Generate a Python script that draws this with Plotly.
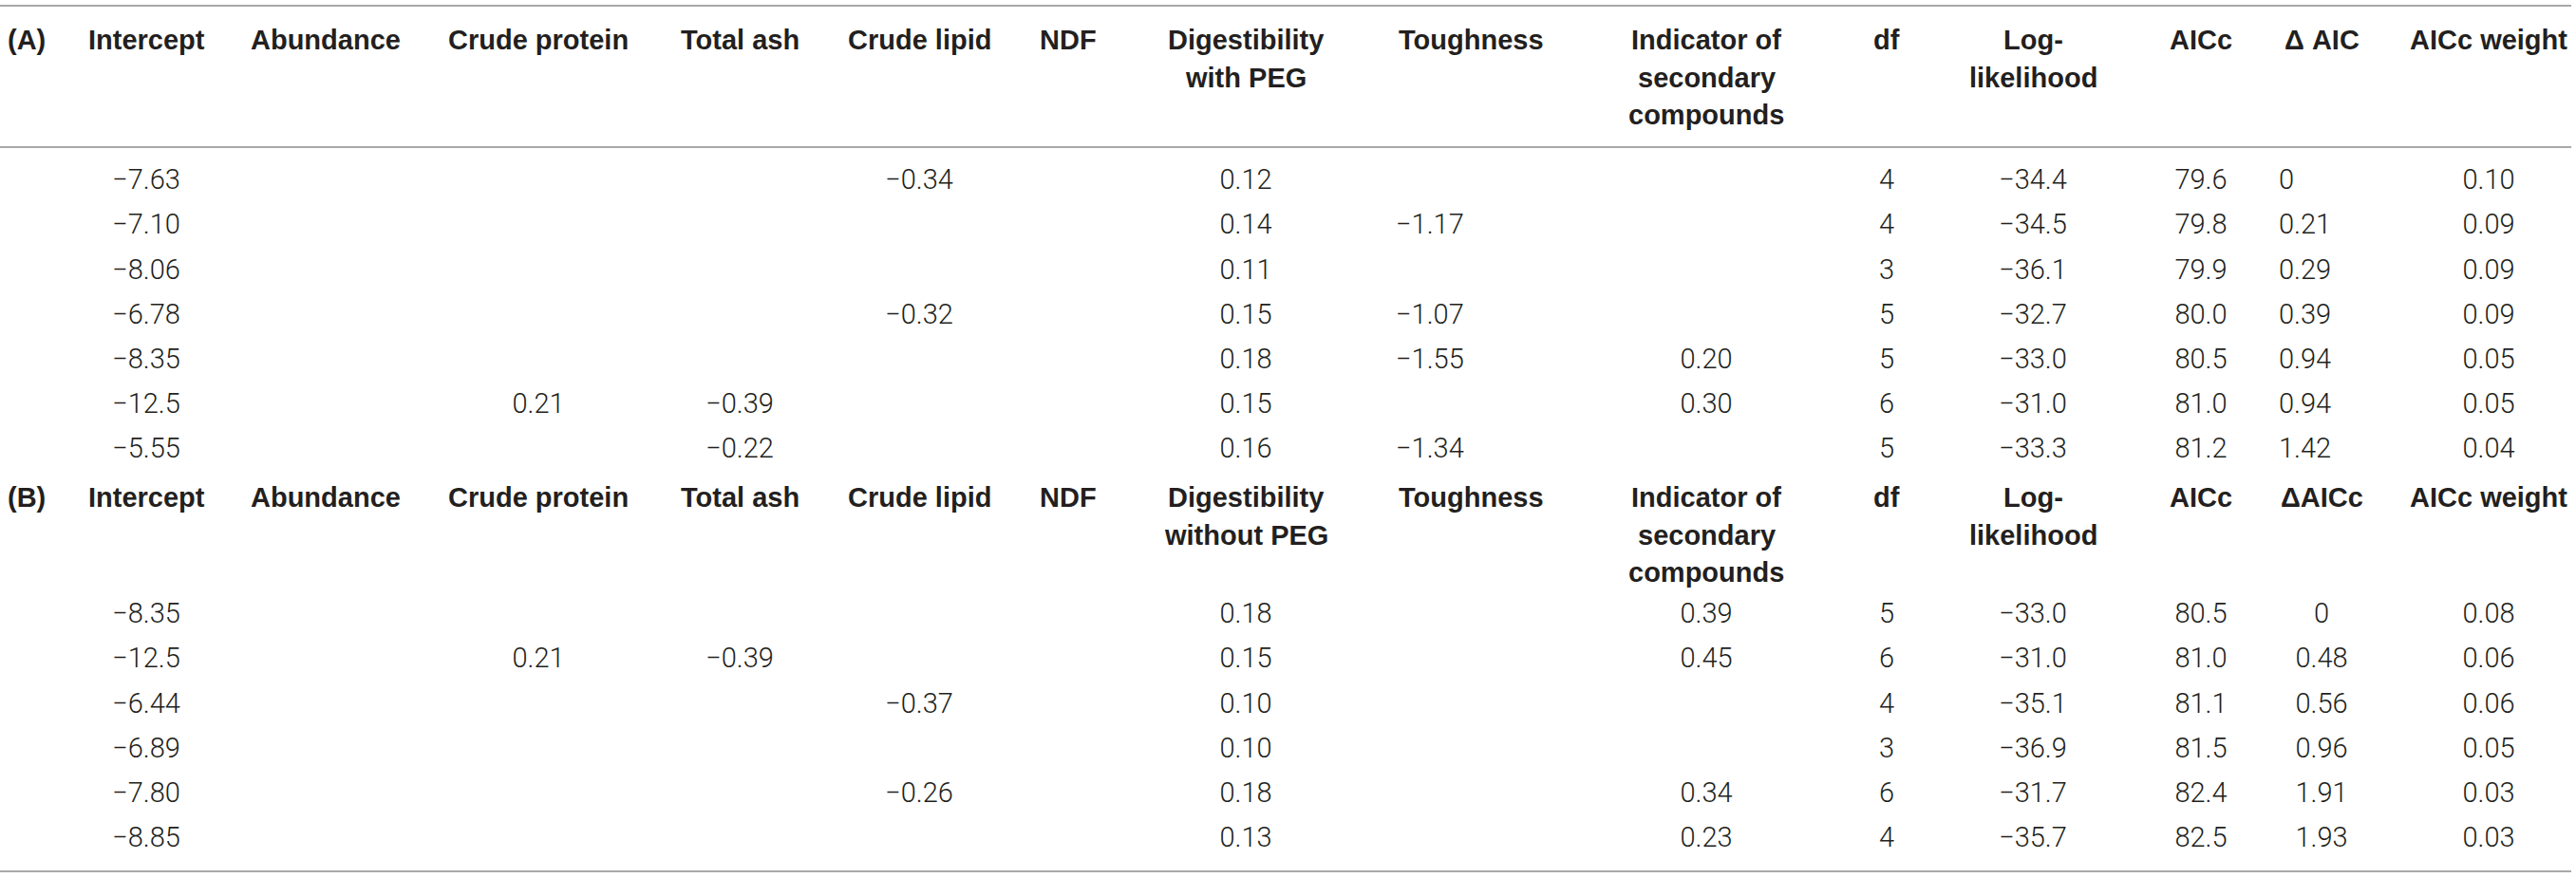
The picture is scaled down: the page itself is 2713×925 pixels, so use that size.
import plotly.graph_objects as go

# Model selection tables (A) with PEG, (B) without PEG
panel_a_header = ["Intercept", "Abundance", "Crude protein", "Total ash", "Crude lipid", "NDF",
                  "Digestibility<br>with PEG", "Toughness", "Indicator of<br>secondary<br>compounds",
                  "df", "Log-<br>likelihood", "AICc", "Δ AIC", "AICc weight"]
panel_b_header = ["Intercept", "Abundance", "Crude protein", "Total ash", "Crude lipid", "NDF",
                  "Digestibility<br>without PEG", "Toughness", "Indicator of<br>secondary<br>compounds",
                  "df", "Log-<br>likelihood", "AICc", "ΔAICc", "AICc weight"]

a_intercept = ["−7.63", "−7.10", "−8.06", "−6.78", "−8.35", "−12.5", "−5.55"]
a_abundance = ["", "", "", "", "", "", ""]
a_protein = ["", "", "", "", "", "0.21", ""]
a_ash = ["", "", "", "", "", "−0.39", "−0.22"]
a_lipid = ["−0.34", "", "", "−0.32", "", "", ""]
a_ndf = ["", "", "", "", "", "", ""]
a_digest = ["0.12", "0.14", "0.11", "0.15", "0.18", "0.15", "0.16"]
a_tough = ["", "−1.17", "", "−1.07", "−1.55", "", "−1.34"]
a_second = ["", "", "", "", "0.20", "0.30", ""]
a_df = ["4", "4", "3", "5", "5", "6", "5"]
a_loglik = ["−34.4", "−34.5", "−36.1", "−32.7", "−33.0", "−31.0", "−33.3"]
a_aicc = ["79.6", "79.8", "79.9", "80.0", "80.5", "81.0", "81.2"]
a_delta = ["0", "0.21", "0.29", "0.39", "0.94", "0.94", "1.42"]
a_weight = ["0.10", "0.09", "0.09", "0.09", "0.05", "0.05", "0.04"]

b_intercept = ["−8.35", "−12.5", "−6.44", "−6.89", "−7.80", "−8.85"]
b_abundance = ["", "", "", "", "", ""]
b_protein = ["", "0.21", "", "", "", ""]
b_ash = ["", "−0.39", "", "", "", ""]
b_lipid = ["", "", "−0.37", "", "−0.26", ""]
b_ndf = ["", "", "", "", "", ""]
b_digest = ["0.18", "0.15", "0.10", "0.10", "0.18", "0.13"]
b_tough = ["", "", "", "", "", ""]
b_second = ["0.39", "0.45", "", "", "0.34", "0.23"]
b_df = ["5", "6", "4", "3", "6", "4"]
b_loglik = ["−33.0", "−31.0", "−35.1", "−36.9", "−31.7", "−35.7"]
b_aicc = ["80.5", "81.0", "81.1", "81.5", "82.4", "82.5"]
b_delta = ["0", "0.48", "0.56", "0.96", "1.91", "1.93"]
b_weight = ["0.08", "0.06", "0.06", "0.05", "0.03", "0.03"]

panel_a = [a_intercept, a_abundance, a_protein, a_ash, a_lipid, a_ndf, a_digest,
           a_tough, a_second, a_df, a_loglik, a_aicc, a_delta, a_weight]
panel_b = [b_intercept, b_abundance, b_protein, b_ash, b_lipid, b_ndf, b_digest,
           b_tough, b_second, b_df, b_loglik, b_aicc, b_delta, b_weight]

# layout (pixel positions of the page)
W, H = 2713, 925
col_x = [154, 343, 567, 779, 968, 1125, 1312, 1549, 1797, 1987, 2141, 2318, 2445, 2621]
# value anchors: columns not listed are centred under the header, listed ones start at the left edge
a_left = {7: 1470, 12: 2400}
b_left = {7: 1470}
row_h = 47.2
line_h = 39.5
a_head, a_first = 42, 192
b_head, b_first = 524, 649
rules = [6, 155, 918]

INK = "#231F20"
head_font = dict(family="Liberation Sans, Arial, sans-serif", size=29, color=INK)
cell_font = dict(family="Roboto, Liberation Sans, sans-serif", size=29, color=INK, weight=300)

fig = go.Figure()


def add_panel(label, header, columns, head_y, first_row, left):
    fig.add_annotation(x=6, y=head_y, text="<b>%s</b>" % label, xanchor="left", yanchor="middle",
                       showarrow=False, font=head_font)
    for i, (name, values) in enumerate(zip(header, columns)):
        # each header line on its own so the line pitch matches the print
        for j, part in enumerate(name.split("<br>")):
            fig.add_annotation(x=col_x[i], y=head_y + j * line_h, text="<b>%s</b>" % part,
                               xanchor="center", yanchor="middle", showarrow=False, font=head_font)
        ys = [first_row + k * row_h for k in range(len(values))]
        if i in left:
            xs = [left[i]] * len(values)
            pos = "middle right"
        else:
            xs = [col_x[i]] * len(values)
            pos = "middle center"
        fig.add_trace(go.Scatter(x=xs, y=ys, text=values, mode="text", textposition=pos,
                                 textfont=cell_font, hoverinfo="skip", showlegend=False))


add_panel("(A)", panel_a_header, panel_a, a_head, a_first, a_left)
add_panel("(B)", panel_b_header, panel_b, b_head, b_first, b_left)

for y in rules:
    fig.add_shape(type="line", x0=0, x1=2708, y0=y, y1=y, xref="x", yref="y",
                  line=dict(color="#A8A8A8", width=2))

fig.update_layout(
    width=W, height=H,
    margin=dict(l=0, r=0, t=0, b=0),
    paper_bgcolor="white", plot_bgcolor="white",
    xaxis=dict(range=[0, W], visible=False, fixedrange=True),
    yaxis=dict(range=[H, 0], visible=False, fixedrange=True),
    showlegend=False,
)

# page margin off so the table sits at the window edge
fig.write_html("out.html", config={"displayModeBar": False},
               post_script="document.body.style.margin='0';document.body.style.overflow='hidden';")
